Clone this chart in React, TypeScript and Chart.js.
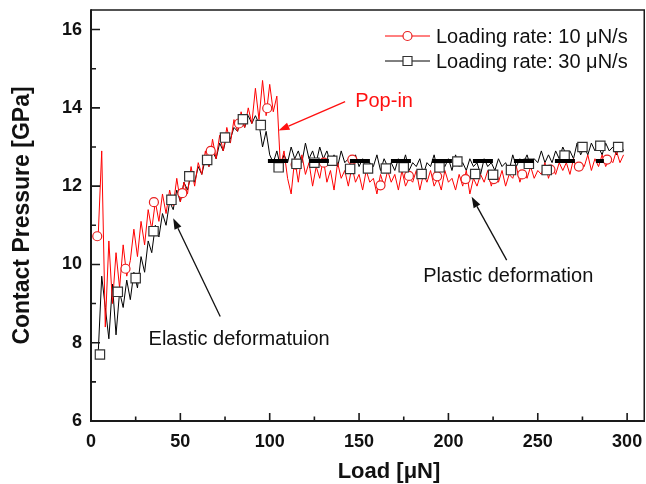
import React, { useEffect, useRef } from "react";
import { Chart, registerables } from "chart.js";

Chart.register(...registerables);

// ---- data ----
const loads = [
  4, 6, 8, 10, 12, 14, 16, 18, 20, 22,
  24, 26, 28, 30, 32, 34, 36, 38, 40, 42,
  44, 46, 48, 50, 52, 54, 56, 58, 60, 62,
  64, 66, 68, 70, 72, 74, 76, 78, 80, 82,
  84, 86, 88, 90, 92, 94, 96, 98, 100, 102,
  104, 106, 108, 110, 112, 114, 116, 118, 120, 122,
  124, 126, 128, 130, 132, 134, 136, 138, 140, 142,
  144, 146, 148, 150, 152, 154, 156, 158, 160, 162,
  164, 166, 168, 170, 172, 174, 176, 178, 180, 182,
  184, 186, 188, 190, 192, 194, 196, 198, 200, 202,
  204, 206, 208, 210, 212, 214, 216, 218, 220, 222,
  224, 226, 228, 230, 232, 234, 236, 238, 240, 242,
  244, 246, 248, 250, 252, 254, 256, 258, 260, 262,
  264, 266, 268, 270, 272, 274, 276, 278, 280, 282,
  284, 286, 288, 290, 292, 294, 296, 298,
];

const rate10 = [
  10.7, 12.9, 8.4, 10.6, 9.0, 10.3, 9.4, 10.5, 9.7, 10.1,
  10.9, 10.2, 11.1, 10.5, 11.4, 10.9, 11.6, 11.1, 11.8, 11.3,
  11.9, 11.5, 12.2, 11.6, 12.1, 11.8, 12.5, 12.0, 12.6, 12.3,
  12.9, 12.5, 13.2, 12.7, 13.3, 12.9, 13.5, 13.1, 13.7, 13.4,
  13.9, 13.5, 14.0, 13.6, 14.5, 13.7, 14.7, 13.8, 14.6, 13.9,
  14.3, 12.5, 12.9, 12.2, 11.8, 12.7, 12.1, 12.8, 12.3, 12.6,
  12.0, 12.5, 12.2, 12.7, 12.1, 12.4, 11.9, 12.6, 12.2, 12.4,
  12.0, 12.5, 12.1, 12.3, 11.9, 12.4, 12.1, 12.2, 11.8, 12.3,
  12.0, 12.4, 12.1, 12.3, 11.9, 12.4, 12.0, 12.2, 12.1, 12.4,
  11.9, 12.3, 12.1, 12.4, 12.0, 12.2, 11.9, 12.4, 12.1, 12.2,
  11.9, 12.3, 12.0, 12.4, 11.8, 12.2, 12.0, 12.3, 12.1, 12.4,
  12.0, 12.3, 12.1, 12.4, 12.0, 12.3, 12.2, 12.5, 12.1, 12.4,
  12.2, 12.5, 12.2, 12.4, 12.3, 12.6, 12.2, 12.5, 12.3, 12.6,
  12.4, 12.6, 12.3, 12.7, 12.4, 12.6, 12.5, 12.8, 12.4, 12.7,
  12.5, 12.8, 12.5, 12.7, 12.6, 12.9, 12.6, 12.8,
];

const rate30 = [
  7.7, 9.7, 8.9, 8.1, 9.5, 8.2, 9.3, 8.9, 9.6, 9.1,
  9.8, 9.4, 10.2, 9.8, 10.6, 10.3, 11.0, 10.7, 11.3, 11.0,
  11.6, 11.4, 11.9, 11.6, 12.1, 11.9, 12.3, 12.1, 12.5, 12.3,
  12.7, 12.5, 12.9, 12.7, 13.1, 12.9, 13.3, 13.2, 13.5, 13.4,
  13.7, 13.5, 13.8, 13.6, 13.8, 13.6, 13.0, 13.4, 12.8, 12.6,
  12.9, 12.5, 12.8, 12.6, 13.0, 12.7, 12.9, 12.6, 13.1, 12.7,
  12.9, 12.6, 13.0, 12.7, 12.9, 12.6, 12.8, 12.5, 12.9, 12.6,
  12.7, 12.4, 12.8, 12.5, 12.7, 12.4, 12.6, 12.5, 12.8, 12.4,
  12.7, 12.5, 12.6, 12.4, 12.7, 12.5, 12.8, 12.4, 12.6, 12.5,
  12.7, 12.3, 12.6, 12.5, 12.8, 12.4, 12.6, 12.5, 12.7, 12.4,
  12.8, 12.5, 12.6, 12.4, 12.7, 12.5, 12.6, 12.3, 12.7, 12.5,
  12.6, 12.4, 12.7, 12.5, 12.6, 12.4, 12.8, 12.5, 12.7, 12.6,
  12.8, 12.5, 12.7, 12.6, 12.9, 12.6, 12.8, 12.6, 12.9, 12.7,
  13.0, 12.8, 12.9, 12.7, 13.1, 12.8, 13.0, 12.8, 13.1, 12.9,
  13.0, 12.8, 13.1, 12.9, 13.0, 12.8, 13.1, 12.9,
];

const circleLoads = [3.5, 19.3, 35.2, 51.1, 67, 82.8, 98.6, 114.5, 130.3, 146.2, 162, 177.9, 193.7, 209.6, 225.4, 241.3, 257.1, 273, 288.8];
const circleValues = [10.72, 9.89, 11.59, 11.82, 12.9, 13.6, 13.99, 12.55, 12.6, 12.68, 12.02, 12.26, 12.25, 12.18, 12.18, 12.3, 12.42, 12.5, 12.68];

const squareLoads = [5, 15, 25, 35, 45, 55, 65, 75, 85, 95, 105, 115, 125, 135, 145, 155, 165, 175, 185, 195, 205, 215, 225, 235, 245, 255, 265, 275, 285, 295];
const squareValues = [7.7, 9.3, 9.65, 10.85, 11.65, 12.25, 12.67, 13.24, 13.71, 13.56, 12.48, 12.57, 12.6, 12.65, 12.44, 12.45, 12.45, 12.48, 12.31, 12.48, 12.63, 12.31, 12.29, 12.41, 12.57, 12.41, 12.78, 13.0, 13.03, 13.0];

const plateauLoads = [99, 287];
const plateauValues = [12.64, 12.64];

const xTicks = [0, 50, 100, 150, 200, 250, 300];
const xMinor = [25, 75, 125, 175, 225, 275];
const yTicks = [6, 8, 10, 12, 14, 16];
const yMinor = [7, 9, 11, 13, 15];

const seriesNames = ["Loading rate: 10 \u03bcN/s", "Loading rate: 30 \u03bcN/s"];

const FONT = "'Liberation Sans', Arial, Helvetica, sans-serif";

function pts(xs: number[], ys: number[]) {
  return xs.map((x, i) => ({ x, y: ys[i] }));
}

function drawArrow(ctx: CanvasRenderingContext2D, x1: number, y1: number, x2: number, y2: number, color: string) {
  const ang = Math.atan2(y2 - y1, x2 - x1);
  const hl = 11;
  const hw = 3.8;
  const bx = x2 - hl * Math.cos(ang);
  const by = y2 - hl * Math.sin(ang);
  ctx.save();
  ctx.strokeStyle = color;
  ctx.fillStyle = color;
  ctx.lineWidth = 1.3;
  ctx.beginPath();
  ctx.moveTo(x1, y1);
  ctx.lineTo(bx, by);
  ctx.stroke();
  ctx.beginPath();
  ctx.moveTo(x2, y2);
  ctx.lineTo(bx + hw * Math.sin(ang), by - hw * Math.cos(ang));
  ctx.lineTo(bx - hw * Math.sin(ang), by + hw * Math.cos(ang));
  ctx.closePath();
  ctx.fill();
  ctx.restore();
}

const zeroPad = (s: any) => {
  s.paddingLeft = 0;
  s.paddingRight = 0;
  s.paddingTop = 0;
  s.paddingBottom = 0;
};

const overlayPlugin = {
  id: "overlay",
  afterDraw(chart: any) {
    const ctx: CanvasRenderingContext2D = chart.ctx;
    const { left, right, top, bottom } = chart.chartArea;
    const xs = chart.scales.x;
    const ys = chart.scales.y;
    const X = (v: number) => xs.getPixelForValue(v);
    const Y = (v: number) => ys.getPixelForValue(v);

    ctx.save();
    // frame
    ctx.strokeStyle = "#1a1a1a";
    ctx.lineWidth = 1.5;
    ctx.beginPath();
    ctx.moveTo(left, top);
    ctx.lineTo(right - 0.75, top);
    ctx.lineTo(right - 0.75, bottom);
    ctx.stroke();
    ctx.lineWidth = 2;
    ctx.beginPath();
    ctx.moveTo(left, top - 0.75);
    ctx.lineTo(left, bottom);
    ctx.lineTo(right, bottom);
    ctx.stroke();

    // inward ticks
    ctx.lineWidth = 1.6;
    ctx.beginPath();
    xTicks.forEach((v) => { const px = X(v); ctx.moveTo(px, bottom); ctx.lineTo(px, bottom - 8); });
    xMinor.forEach((v) => { const px = X(v); ctx.moveTo(px, bottom); ctx.lineTo(px, bottom - 4.5); });
    yTicks.forEach((v) => { const py = Y(v); ctx.moveTo(left, py); ctx.lineTo(left + 9, py); });
    yMinor.forEach((v) => { const py = Y(v); ctx.moveTo(left, py); ctx.lineTo(left + 5, py); });
    ctx.stroke();

    // x axis title
    ctx.fillStyle = "#111";
    ctx.font = `bold 22px ${FONT}`;
    ctx.textAlign = "center";
    ctx.textBaseline = "alphabetic";
    ctx.fillText("Load [\u03bcN]", 389, 478);

    // legend
    const lgX = right - 260;
    const rows = [
      { y: top + 26, color: "#ff0000", stroke: "#e82020", shape: "circle" },
      { y: top + 51, color: "#000", stroke: "#333", shape: "square" },
    ];
    ctx.font = `20px ${FONT}`;
    ctx.textAlign = "left";
    ctx.textBaseline = "middle";
    rows.forEach((r, i) => {
      ctx.strokeStyle = r.color;
      ctx.lineWidth = 1;
      ctx.beginPath();
      ctx.moveTo(lgX, r.y);
      ctx.lineTo(lgX + 45, r.y);
      ctx.stroke();
      ctx.fillStyle = "#fff";
      ctx.strokeStyle = r.stroke;
      ctx.lineWidth = 1.2;
      ctx.beginPath();
      if (r.shape === "circle") ctx.arc(lgX + 22.5, r.y, 4.5, 0, Math.PI * 2);
      else ctx.rect(lgX + 18, r.y - 4.5, 9, 9);
      ctx.fill();
      ctx.stroke();
      ctx.fillStyle = "#111";
      ctx.fillText(seriesNames[i], lgX + 51, r.y + 1);
    });

    // annotations
    ctx.textBaseline = "alphabetic";
    ctx.font = `20px ${FONT}`;
    ctx.fillStyle = "#ff1010";
    ctx.fillText("Pop-in", X(147.8), Y(14.02));
    drawArrow(ctx, X(142.2), Y(14.16), X(104.9), Y(13.42), "#ff1010");

    ctx.fillStyle = "#111";
    ctx.fillText("Elastic deformatuion", X(32.2), Y(7.94));
    drawArrow(ctx, X(72.3), Y(8.67), X(46), Y(11.18), "#111");

    ctx.fillText("Plastic deformation", X(185.9), Y(9.55));
    drawArrow(ctx, X(232.6), Y(10.11), X(213), Y(11.73), "#111");

    ctx.restore();
  },
};

export default function App() {
  const ref = useRef<HTMLCanvasElement>(null);

  useEffect(() => {
    if (!ref.current) return;
    const tickFont = { family: FONT, size: 18, weight: "bold" as const };
    const chart = new Chart(ref.current, {
      type: "line",
      data: {
        datasets: [
          {
            label: "plateau",
            data: pts(plateauLoads, plateauValues),
            borderColor: "#000",
            borderWidth: 4,
            borderDash: [20, 21],
            pointRadius: 0,
            order: 0,
          },
          {
            label: "squares",
            data: pts(squareLoads, squareValues),
            showLine: false,
            pointStyle: "rect",
            pointRadius: 6.6,
            pointBackgroundColor: "#fff",
            pointBorderColor: "#333",
            pointBorderWidth: 1.2,
            order: 1,
          },
          {
            label: "circles",
            data: pts(circleLoads, circleValues),
            showLine: false,
            pointStyle: "circle",
            pointRadius: 4.5,
            pointBackgroundColor: "#fff",
            pointBorderColor: "#e82020",
            pointBorderWidth: 1.2,
            order: 2,
          },
          {
            label: seriesNames[0],
            data: pts(loads, rate10),
            borderColor: "#ff0000",
            borderWidth: 1,
            pointRadius: 0,
            tension: 0,
            order: 3,
          },
          {
            label: seriesNames[1],
            data: pts(loads, rate30),
            borderColor: "#000",
            borderWidth: 1,
            pointRadius: 0,
            tension: 0,
            order: 4,
          },
        ],
      },
      options: {
        animation: false,
        responsive: false,
        devicePixelRatio: 1,
        layout: { autoPadding: false, padding: { top: 10, right: 1, left: 0, bottom: 0 } },
        plugins: { legend: { display: false }, tooltip: { enabled: false } },
        scales: {
          x: {
            type: "linear",
            min: 0,
            max: 310,
            grid: { display: false, drawTicks: false },
            border: { display: false },
            ticks: { font: tickFont, color: "#111", padding: 10 },
            afterBuildTicks: (s: any) => { s.ticks = xTicks.map((v) => ({ value: v })); },
            afterFit: (s: any) => { s.height = 63; zeroPad(s); },
          },
          y: {
            type: "linear",
            min: 6,
            max: 16.5,
            grid: { display: false, drawTicks: false },
            border: { display: false },
            ticks: { font: tickFont, color: "#111", padding: 9 },
            afterBuildTicks: (s: any) => { s.ticks = yTicks.map((v) => ({ value: v })); },
            afterFit: (s: any) => { s.width = 91; zeroPad(s); },
            title: {
              display: true,
              text: "Contact Pressure [GPa]",
              color: "#111",
              font: { family: FONT, size: 23, weight: "bold" },
              padding: { top: 9, bottom: 0 },
            },
          },
        },
      },
      plugins: [overlayPlugin],
    });
    return () => chart.destroy();
  }, []);

  return (
    <div style={{ position: "fixed", left: 0, top: 0, width: 646, height: 484, background: "#fff" }}>
      <canvas ref={ref} width={646} height={484} style={{ display: "block" }} />
    </div>
  );
}
